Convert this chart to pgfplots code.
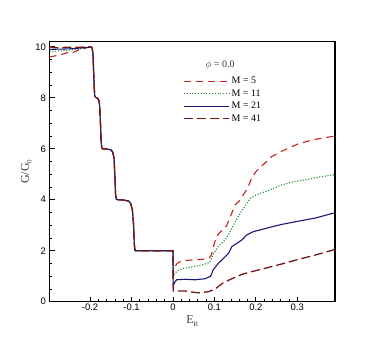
\documentclass[border=0pt]{standalone}
\usepackage{pgfplots}
\pgfplotsset{compat=1.18}
\usepackage{fontspec}
\setmainfont{Liberation Serif}
\setsansfont{Liberation Sans}
\definecolor{cM5}{RGB}{200,30,30}
\definecolor{cM11}{RGB}{30,140,40}
\definecolor{cM21}{RGB}{25,25,120}
\definecolor{cM41}{RGB}{120,20,20}
\begin{document}
\begin{tikzpicture}
\begin{axis}[
  at={(0,0)}, anchor=south west, scale only axis,
  width=285.5bp, height=260bp,
  xmin=-0.298, xmax=0.391, ymin=0, ymax=10.2,
  xtick={-0.2,-0.1,0,0.1,0.2,0.3},
  ytick={0,2,4,6,8,10},
  minor x tick num=4, minor y tick num=3,
  tick pos=left, tick align=inside,
  major tick length=5bp, minor tick length=2.5bp,
  every tick/.style={black, line width=0.8pt},
  axis line style={line width=1.1pt},
  /pgf/number format/assume math mode=true,
  tick label style={font=\sffamily\fontsize{9.5}{10}\selectfont},
  xticklabel style={yshift=1pt},
  label style={font=\fontsize{12}{13}\selectfont, color=black!75},
  xlabel={E\raisebox{-0.5ex}{\fontsize{7}{7}\selectfont R}},
  ylabel={G/G\raisebox{-0.5ex}{\fontsize{7}{7}\selectfont 0}},
  xlabel style={yshift=2pt},
  ylabel style={yshift=-3pt},
  legend style={at={(0.468,0.871)}, anchor=north west, draw=none, fill=none,
    font=\fontsize{10}{11}\selectfont, row sep=0.3pt, inner sep=0pt},
  legend cell align=left,
  legend image code/.code={\draw[#1] (0bp,0bp) -- (45bp,0bp);},
]
% M = 5
\addplot[cM5, line width=1.1pt, dash pattern=on 7bp off 5bp] coordinates {
(-0.298,9.6) (-0.28,9.66) (-0.265,9.72) (-0.255,9.77) (-0.245,9.75) (-0.235,9.82) (-0.225,9.9) (-0.215,9.93) (-0.205,9.98) (-0.198,10.0)
(-0.195,9.95) (-0.193,9.7) (-0.1915,9.0) (-0.190,8.4) (-0.189,8.1) (-0.187,8.02) (-0.182,7.98) (-0.179,7.9) (-0.177,7.7) (-0.175,7.0) (-0.1735,6.3) (-0.172,6.05) (-0.170,6.0) (-0.16,5.99) (-0.149,5.95) (-0.145,5.85) (-0.142,5.6) (-0.140,4.8) (-0.1385,4.2) (-0.137,4.03) (-0.134,4.0) (-0.12,3.99) (-0.107,3.95) (-0.102,3.85) (-0.098,3.6) (-0.095,3.0) (-0.0935,2.3) (-0.092,2.03) (-0.090,2.0) (0,2.0)
(0.0005,1.15) (0.004,1.35) (0.01,1.5) (0.02,1.6) (0.04,1.63) (0.06,1.65) (0.08,1.68) (0.088,1.72) (0.093,1.85) (0.1,2.3) (0.105,2.55) (0.112,2.7) (0.123,2.85) (0.13,3.0) (0.14,3.4) (0.15,3.8) (0.16,3.95) (0.17,4.2) (0.18,4.45) (0.19,4.85) (0.2,5.1) (0.21,5.25) (0.222,5.44) (0.238,5.69) (0.262,5.9) (0.28,6.03) (0.303,6.2) (0.34,6.36) (0.391,6.5)
};
\addlegendentry{M = 5}
% M = 11
\addplot[cM11, line width=1.1pt, dash pattern=on 1.1bp off 1.7bp] coordinates {
(-0.298,9.82) (-0.27,9.84) (-0.25,9.87) (-0.225,9.92) (-0.205,9.97) (-0.198,10.0)
(-0.195,9.95) (-0.193,9.7) (-0.1915,9.0) (-0.190,8.4) (-0.189,8.1) (-0.187,8.02) (-0.182,7.98) (-0.179,7.9) (-0.177,7.7) (-0.175,7.0) (-0.1735,6.3) (-0.172,6.05) (-0.170,6.0) (-0.16,5.99) (-0.149,5.95) (-0.145,5.85) (-0.142,5.6) (-0.140,4.8) (-0.1385,4.2) (-0.137,4.03) (-0.134,4.0) (-0.12,3.99) (-0.107,3.95) (-0.102,3.85) (-0.098,3.6) (-0.095,3.0) (-0.0935,2.3) (-0.092,2.03) (-0.090,2.0) (0,2.0)
(0.0005,1.0) (0.005,1.12) (0.012,1.22) (0.025,1.31) (0.05,1.38) (0.07,1.44) (0.089,1.55) (0.097,1.85) (0.109,2.16) (0.126,2.42) (0.138,2.75) (0.146,3.01) (0.158,3.35) (0.17,3.66) (0.186,4.05) (0.2,4.18) (0.21,4.25) (0.234,4.38) (0.262,4.58) (0.29,4.7) (0.319,4.78) (0.35,4.88) (0.391,4.99)
};
\addlegendentry{M = 11}
% M = 21
\addplot[cM21, line width=1.1pt] coordinates {
(-0.298,9.9) (-0.27,9.91) (-0.25,9.92) (-0.225,9.95) (-0.205,9.98) (-0.198,10.0)
(-0.195,9.95) (-0.193,9.7) (-0.1915,9.0) (-0.190,8.4) (-0.189,8.1) (-0.187,8.02) (-0.182,7.98) (-0.179,7.9) (-0.177,7.7) (-0.175,7.0) (-0.1735,6.3) (-0.172,6.05) (-0.170,6.0) (-0.16,5.99) (-0.149,5.95) (-0.145,5.85) (-0.142,5.6) (-0.140,4.8) (-0.1385,4.2) (-0.137,4.03) (-0.134,4.0) (-0.12,3.99) (-0.107,3.95) (-0.102,3.85) (-0.098,3.6) (-0.095,3.0) (-0.0935,2.3) (-0.092,2.03) (-0.090,2.0) (0,2.0)
(0.0005,0.62) (0.004,0.76) (0.009,0.86) (0.029,0.88) (0.053,0.86) (0.077,0.9) (0.091,1.0) (0.097,1.25) (0.109,1.5) (0.122,1.7) (0.134,1.9) (0.142,2.16) (0.154,2.29) (0.166,2.42) (0.178,2.62) (0.194,2.75) (0.218,2.85) (0.234,2.92) (0.262,3.03) (0.3,3.15) (0.343,3.28) (0.391,3.49)
};
\addlegendentry{M = 21}
% M = 41
\addplot[cM41, line width=1.3pt, dash pattern=on 9bp off 4bp] coordinates {
(-0.298,10.0) (-0.28,9.96) (-0.26,9.98) (-0.23,9.98) (-0.198,10.0)
(-0.195,9.95) (-0.193,9.7) (-0.1915,9.0) (-0.190,8.4) (-0.189,8.1) (-0.187,8.02) (-0.182,7.98) (-0.179,7.9) (-0.177,7.7) (-0.175,7.0) (-0.1735,6.3) (-0.172,6.05) (-0.170,6.0) (-0.16,5.99) (-0.149,5.95) (-0.145,5.85) (-0.142,5.6) (-0.140,4.8) (-0.1385,4.2) (-0.137,4.03) (-0.134,4.0) (-0.12,3.99) (-0.107,3.95) (-0.102,3.85) (-0.098,3.6) (-0.095,3.0) (-0.0935,2.3) (-0.092,2.03) (-0.090,2.0) (0,2.0)
(0.0005,0.42) (0.029,0.42) (0.045,0.38) (0.061,0.35) (0.085,0.39) (0.101,0.49) (0.122,0.75) (0.142,0.9) (0.166,1.07) (0.19,1.18) (0.222,1.31) (0.26,1.47) (0.303,1.66) (0.35,1.86) (0.391,2.05)
};
\addlegendentry{M = 41}
\node[font=\fontsize{10}{11}\selectfont, color=black!80] at (axis cs:0.1135,9.27) {$\phi$ = 0.0};
\end{axis}
\pgfresetboundingbox
\useasboundingbox (-49.5bp,-38.3bp) rectangle (332.5bp,301.7bp);
\end{tikzpicture}
\end{document}
